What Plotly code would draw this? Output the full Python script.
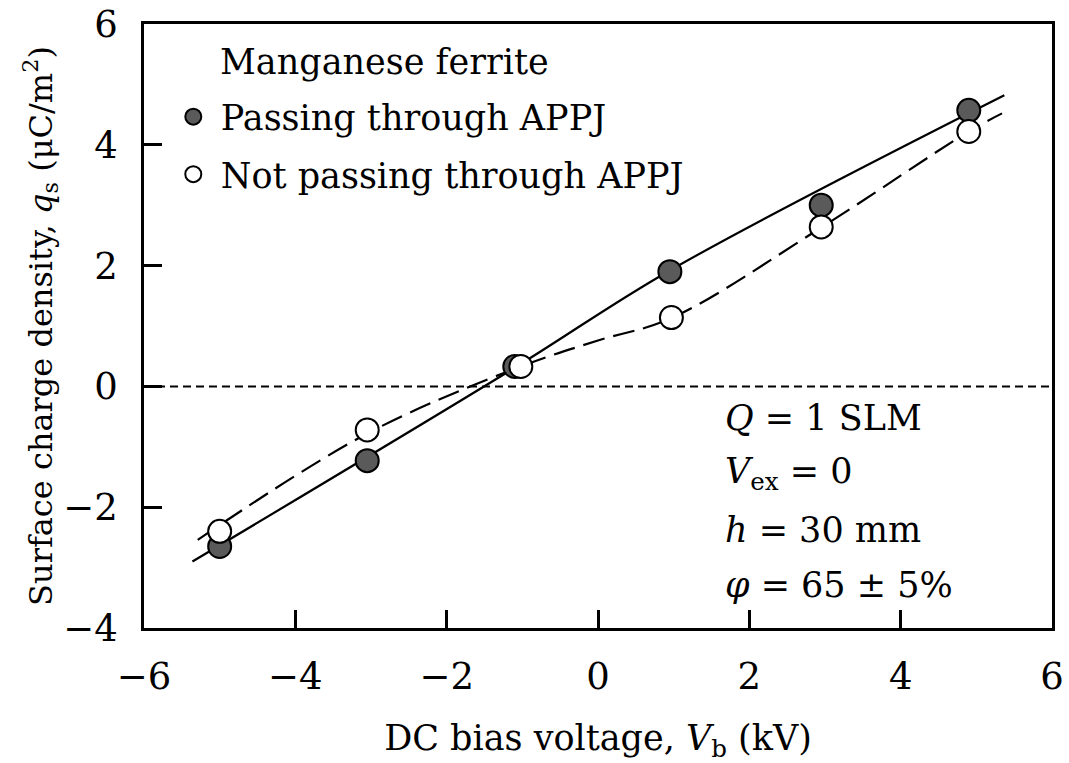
import plotly.graph_objects as go

# Measured data
vb_pass = [-5.0, -3.05, -1.1, 0.95, 2.95, 4.9]
qs_pass = [-2.65, -1.23, 0.33, 1.90, 3.00, 4.57]
vb_not = [-5.0, -3.05, -1.02, 0.97, 2.95, 4.9]
qs_not = [-2.40, -0.72, 0.33, 1.14, 2.64, 4.22]

# Guide curves drawn through the data
fit_pass_x = [-5.36, -1.1, 0.95, 5.37]
fit_pass_y = [-2.90, 0.31, 1.92, 4.82]
fit_not_x = [-5.29, -3.05, -1.02, 0.0, 0.97, 2.95, 4.9, 5.34]
fit_not_y = [-2.54, -0.78, 0.33, 0.76, 1.13, 2.63, 4.22, 4.52]

zero_x = [-6, 6]
zero_y = [0, 0]

FONT = "DejaVu Serif"
FS = 35
TFS = 37

fig = go.Figure()

fig.add_trace(go.Scatter(x=zero_x, y=zero_y, mode="lines",
                         line=dict(color="black", width=2, dash="8px,5px"),
                         showlegend=False, hoverinfo="skip"))
fig.add_trace(go.Scatter(x=fit_pass_x, y=fit_pass_y, mode="lines",
                         line=dict(color="black", width=2.2, shape="spline", smoothing=1.0),
                         showlegend=False, hoverinfo="skip"))
fig.add_trace(go.Scatter(x=fit_not_x, y=fit_not_y, mode="lines",
                         line=dict(color="black", width=2.2, dash="22px,9px", shape="spline", smoothing=1.0),
                         showlegend=False, hoverinfo="skip"))
fig.add_trace(go.Scatter(x=vb_pass, y=qs_pass, mode="markers", name="Passing through APPJ",
                         legendgroup="a",
                         marker=dict(size=23, color="#5a5a5a", line=dict(color="black", width=2))))
fig.add_trace(go.Scatter(x=vb_not, y=qs_not, mode="markers", name="Not passing through APPJ",
                         legendgroup="b",
                         marker=dict(size=23, color="white", line=dict(color="black", width=2))))

axis_common = dict(showline=True, linecolor="black", linewidth=2.5, mirror=True,
                   ticks="inside", ticklen=18, tickwidth=2.5, tickcolor="black",
                   showgrid=False, zeroline=False, automargin=False,
                   tickfont=dict(family=FONT, size=TFS, color="black"))

fig.update_xaxes(range=[-6, 6], tickvals=[-6, -4, -2, 0, 2, 4, 6],
                 title=dict(text="DC bias voltage, <i>V</i><sub>b</sub> (kV)",
                            font=dict(family=FONT, size=FS, color="black"), standoff=30),
                 ticklabelstandoff=14, **axis_common)
fig.update_yaxes(range=[-4, 6], tickvals=[-4, -2, 0, 2, 4, 6],
                 title=dict(text="Surface charge density, <i>q</i><sub>s</sub> (μC/m<sup>2</sup>)",
                            font=dict(family=FONT, size=32, color="black"), standoff=0),
                 ticklabelstandoff=16, **axis_common)

notes = ["<i>Q</i> = 1 SLM", "<i>V</i><sub>ex</sub> = 0", "<i>h</i> = 30 mm", "<i>φ</i> = 65 ± 5%"]
note_y = [418, 473, 530, 585]
for t, yy in zip(notes, note_y):
    fig.add_annotation(text=t, xref="paper", yref="paper",
                       x=(723 - 144) / 908, y=(628 - yy) / 604,
                       xanchor="left", yanchor="middle", showarrow=False,
                       font=dict(family=FONT, size=FS, color="black"))

fig.add_annotation(text="Manganese ferrite", xref="paper", yref="paper",
                   x=(218 - 144) / 908, y=(628 - 62) / 604, xanchor="left", yanchor="middle",
                   showarrow=False, font=dict(family=FONT, size=FS, color="black"))

fig.update_layout(
    width=1069, height=763,
    margin=dict(l=144, r=17, t=24, b=135, autoexpand=False),
    paper_bgcolor="white", plot_bgcolor="white",
    font=dict(family=FONT),
    showlegend=True,
    legend=dict(x=0.024, y=0.895, xanchor="left", yanchor="top", bgcolor="rgba(0,0,0,0)",
                font=dict(family=FONT, size=FS, color="black"), itemsizing="trace",
                itemwidth=45, tracegroupgap=9, traceorder="grouped"),
)

fig.write_html("out.html")
